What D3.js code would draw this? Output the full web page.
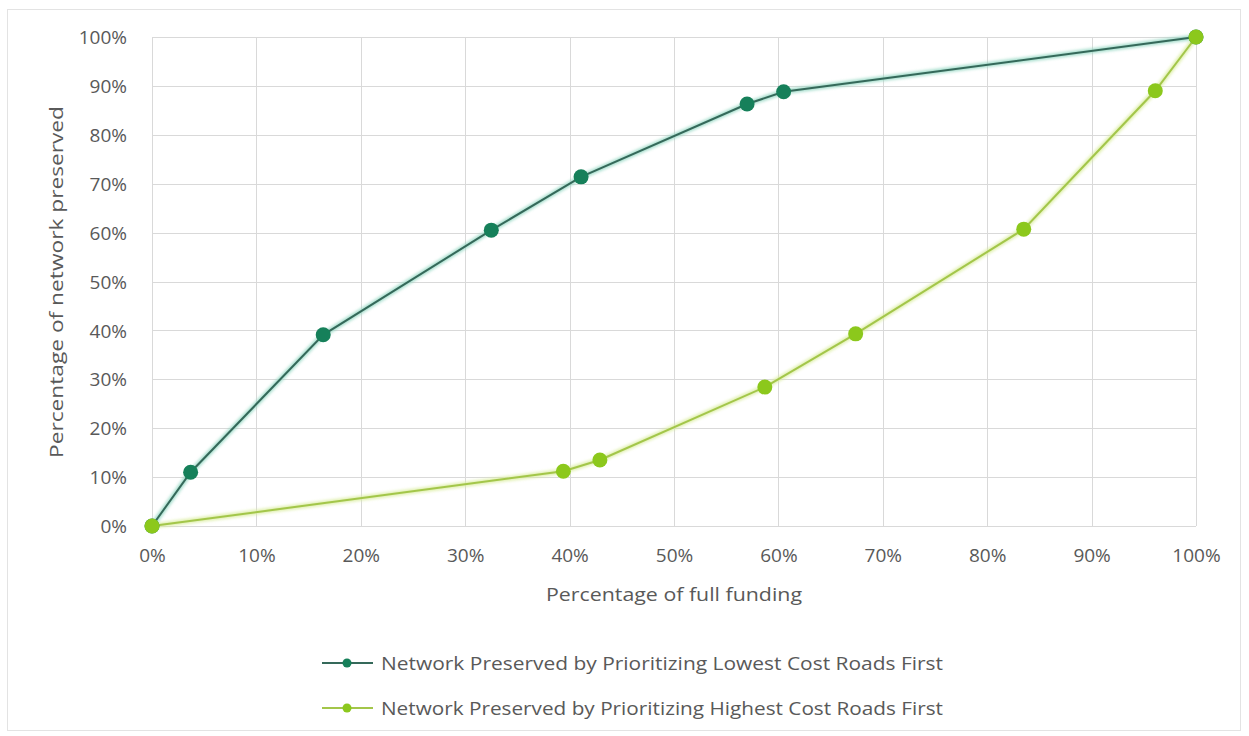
<!DOCTYPE html>
<html>
<head>
<meta charset="utf-8">
<script src="https://cdn.jsdelivr.net/npm/d3@7"></script>
<style>
  html, body { margin: 0; padding: 0; background: #fff; }
  svg { display: block; }
</style>
</head>
<body>
<svg id="chart" width="1249" height="736"></svg>
<script>
// Funding share (x) vs. share of network preserved (y), both as fractions
const lowestCostFunding   = [0, 0.037, 0.164, 0.325, 0.411, 0.570, 0.605, 1.0];
const lowestCostPreserved = [0, 0.110, 0.391, 0.605, 0.714, 0.863, 0.888, 1.0];
const highestCostFunding   = [0, 0.394, 0.429, 0.587, 0.674, 0.835, 0.961, 1.0];
const highestCostPreserved = [0, 0.112, 0.135, 0.284, 0.393, 0.607, 0.890, 1.0];
const xTicks = [0, 0.1, 0.2, 0.3, 0.4, 0.5, 0.6, 0.7, 0.8, 0.9, 1.0];
const yTicks = [0, 0.1, 0.2, 0.3, 0.4, 0.5, 0.6, 0.7, 0.8, 0.9, 1.0];
const seriesNames = [
  "Network Preserved by Prioritizing Lowest Cost Roads First",
  "Network Preserved by Prioritizing Highest Cost Roads First"
];

const series = [
  { name: seriesNames[0], line: "#35695a", marker: "#17805a", halo: "#8fd6c0",
    pts: lowestCostFunding.map((x, i) => [x, lowestCostPreserved[i]]) },
  { name: seriesNames[1], line: "#a3c64a", marker: "#8cc81e", halo: "#d8ec9a",
    pts: highestCostFunding.map((x, i) => [x, highestCostPreserved[i]]) }
];

const svg = d3.select("#chart");
const font = "'Open Sans', 'Noto Sans', sans-serif";
const textColor = "#595959";
const fs = "19px";

// chart frame
svg.append("rect").attr("x", 7.5).attr("y", 9.5).attr("width", 1233).attr("height", 721)
  .attr("fill", "#fff").attr("stroke", "#e3e3e3");

const x = d3.scaleLinear().domain([0, 1]).range([152, 1196]);
const y = d3.scaleLinear().domain([0, 1]).range([526, 37]);
const pct = d3.format(".0%");

const defs = svg.append("defs");
const blur = defs.append("filter").attr("id", "soft").attr("x", "-5%").attr("y", "-5%")
  .attr("width", "110%").attr("height", "110%");
blur.append("feGaussianBlur").attr("stdDeviation", 1.8);
const mblur = defs.append("filter").attr("id", "msoft");
mblur.append("feGaussianBlur").attr("stdDeviation", 0.6);

// gridlines
svg.append("g").selectAll("line").data(yTicks).join("line")
  .attr("x1", x(0)).attr("x2", x(1))
  .attr("y1", d => Math.round(y(d)) + 0.5).attr("y2", d => Math.round(y(d)) + 0.5)
  .attr("stroke", "#d9d9d9").attr("stroke-width", 1);
svg.append("g").selectAll("line").data(xTicks).join("line")
  .attr("y1", y(0)).attr("y2", y(1))
  .attr("x1", d => Math.round(x(d)) + 0.5).attr("x2", d => Math.round(x(d)) + 0.5)
  .attr("stroke", "#d9d9d9").attr("stroke-width", 1);

// axes (labels only)
const xAxis = svg.append("g").attr("transform", `translate(0,${y(0) + 29})`)
  .call(d3.axisBottom(x).tickValues(xTicks).tickFormat(pct).tickSize(0).tickPadding(0));
const yAxis = svg.append("g").attr("transform", `translate(127,0)`)
  .call(d3.axisLeft(y).tickValues(yTicks).tickFormat(pct).tickSize(0).tickPadding(0));
[xAxis, yAxis].forEach(a => {
  a.select(".domain").remove();
  a.selectAll("text").attr("fill", textColor).style("font-family", font).style("font-size", fs);
});
xAxis.selectAll("text").attr("dy", "0.35em");
yAxis.selectAll("text").attr("dy", "0.35em");

// axis titles
svg.append("text").attr("x", 674).attr("y", 594).attr("dy", "0.35em").attr("text-anchor", "middle")
  .attr("textLength", 256).attr("lengthAdjust", "spacingAndGlyphs")
  .attr("fill", textColor).style("font-family", font).style("font-size", fs)
  .text("Percentage of full funding");
svg.append("text").attr("transform", `translate(56,282) rotate(-90)`)
  .attr("dy", "0.35em").attr("text-anchor", "middle")
  .attr("textLength", 352).attr("lengthAdjust", "spacingAndGlyphs")
  .attr("fill", textColor).style("font-family", font).style("font-size", fs)
  .text("Percentage of network preserved");

// series lines with a soft halo, then markers
const line = d3.line().x(d => x(d[0])).y(d => y(d[1]));
[series[1], series[0]].forEach(s => {
  svg.append("path").datum(s.pts).attr("d", line).attr("fill", "none")
    .attr("stroke", s.halo).attr("stroke-width", 5).attr("opacity", 0.8)
    .attr("filter", "url(#soft)");
  svg.append("path").datum(s.pts).attr("d", line).attr("fill", "none")
    .attr("stroke", s.line).attr("stroke-width", 2);
});
[series[0], series[1]].forEach(s => {
  svg.append("g").selectAll("circle").data(s.pts).join("circle")
    .attr("cx", d => x(d[0])).attr("cy", d => y(d[1])).attr("r", 7.5)
    .attr("fill", s.marker).attr("filter", "url(#msoft)");
});

// legend
const legend = svg.append("g");
series.forEach((s, i) => {
  const ly = 663 + i * 45;
  legend.append("line").attr("x1", 322).attr("x2", 373).attr("y1", ly).attr("y2", ly)
    .attr("stroke", s.line).attr("stroke-width", 2);
  legend.append("circle").attr("cx", 347).attr("cy", ly).attr("r", 4.5).attr("fill", s.marker);
  legend.append("text").attr("x", 381).attr("y", ly).attr("dy", "0.35em")
    .attr("textLength", 562).attr("lengthAdjust", "spacingAndGlyphs")
    .attr("fill", textColor).style("font-family", font).style("font-size", fs)
    .text(s.name);
});
</script>
</body>
</html>
